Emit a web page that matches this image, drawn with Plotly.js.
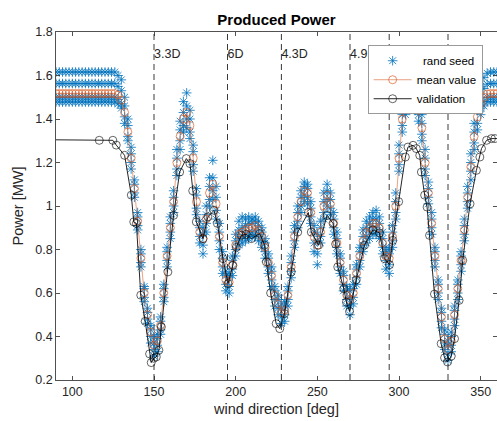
<!DOCTYPE html>
<html>
<head>
<meta charset="utf-8">
<script src="https://cdn.plot.ly/plotly-3.0.1.min.js"></script>
<style>html,body{margin:0;padding:0;overflow:hidden;background:#fff}</style>
</head>
<body>
<div id="chart" style="width:497px;height:421px"></div>
<script>
// wind direction grid [deg]
const dirs = [90,92,94,96,98,100,102,104,106,108,110,112,114,116,118,120,122,124,126,
  128,130,132,134,136,138,140,142,144,146,
  148,150,152,154,156,158,160,162,164,166,
  168,170,172,174,176,178,180,182,184,186,
  188,190,192,194,196,198,200,202,204,206,
  208,210,212,214,216,218,220,222,224,226,
  228,230,232,234,236,238,240,242,244,246,
  248,250,252,254,256,258,260,262,264,266,
  268,270,272,274,276,278,280,282,284,286,
  288,290,292,294,296,298,300,302,304,306,
  308,310,312,314,316,318,320,322,324,326,
  328,330,332,334,336,338,340,342,344,346,
  348,350,352,354,356,358,360];

// mean value [MW]
const meanPower = [1.517,1.517,1.517,1.517,1.517,1.517,1.517,1.517,1.517,1.517,1.517,1.517,1.517,1.517,1.517,1.517,1.517,1.517,1.517,
  1.51,1.487,1.43,1.34,1.22,1.08,0.93,0.76,0.60,0.50,
  0.42,0.36,0.38,0.45,0.60,0.77,0.90,1.02,1.20,1.32,
  1.40,1.43,1.37,1.22,1.02,0.88,0.85,0.94,1.06,1.10,
  1.01,0.86,0.74,0.66,0.65,0.73,0.82,0.87,0.88,0.89,
  0.90,0.90,0.91,0.89,0.86,0.81,0.74,0.68,0.59,0.55,
  0.51,0.52,0.59,0.72,0.86,0.95,1.02,1.07,1.06,0.97,
  0.86,0.82,0.88,1.00,1.05,1.01,0.92,0.83,0.74,0.66,
  0.59,0.57,0.60,0.69,0.77,0.84,0.88,0.90,0.92,0.92,
  0.90,0.83,0.77,0.76,0.86,1.00,1.22,1.40,1.47,1.50,
  1.50,1.49,1.44,1.36,1.20,1.06,0.92,0.77,0.62,0.49,
  0.39,0.34,0.38,0.50,0.62,0.75,0.89,1.04,1.18,1.32,
  1.41,1.47,1.50,1.515,1.517,1.517,1.517];

// individual random seeds [MW]
const seedA = [1.616,1.616,1.616,1.616,1.616,1.616,1.616,1.616,1.616,1.616,1.616,1.616,1.616,1.616,1.616,1.616,1.616,1.616,1.616,
  1.60,1.58,1.50,1.40,1.27,1.12,0.97,0.80,0.63,0.53,
  0.45,0.40,0.41,0.49,0.64,0.81,0.95,1.07,1.26,1.39,
  1.48,1.52,1.44,1.28,1.08,0.93,0.90,1.00,1.13,1.21,
  1.09,0.92,0.79,0.70,0.69,0.77,0.87,0.93,0.95,0.94,
  0.95,0.94,0.95,0.93,0.90,0.85,0.78,0.72,0.63,0.59,
  0.55,0.56,0.63,0.77,0.91,1.00,1.07,1.11,1.10,1.02,
  0.91,0.87,0.93,1.06,1.10,1.06,0.97,0.88,0.78,0.70,
  0.63,0.61,0.64,0.73,0.81,0.89,0.93,0.95,0.97,0.98,
  0.95,0.88,0.81,0.80,0.91,1.06,1.28,1.46,1.53,1.55,
  1.55,1.54,1.50,1.42,1.26,1.11,0.97,0.81,0.66,0.53,
  0.43,0.38,0.42,0.54,0.66,0.79,0.94,1.09,1.24,1.38,
  1.48,1.55,1.59,1.61,1.616,1.616,1.616];
const seedB = [1.563,1.563,1.563,1.563,1.563,1.563,1.563,1.563,1.563,1.563,1.563,1.563,1.563,1.563,1.563,1.563,1.563,1.563,1.563,
  1.55,1.53,1.46,1.37,1.24,1.10,0.95,0.78,0.62,0.51,
  0.43,0.37,0.39,0.47,0.62,0.79,0.92,1.04,1.22,1.35,
  1.43,1.46,1.40,1.25,1.05,0.90,0.87,0.96,1.09,1.13,
  1.04,0.88,0.76,0.68,0.67,0.75,0.84,0.89,0.90,0.91,
  0.92,0.92,0.93,0.91,0.88,0.83,0.76,0.70,0.61,0.57,
  0.53,0.54,0.61,0.74,0.88,0.97,1.04,1.09,1.08,0.99,
  0.88,0.84,0.90,1.02,1.07,1.03,0.94,0.85,0.76,0.68,
  0.61,0.58,0.62,0.71,0.79,0.86,0.90,0.92,0.94,0.94,
  0.92,0.85,0.79,0.78,0.88,1.02,1.24,1.42,1.49,1.52,
  1.52,1.51,1.46,1.38,1.22,1.08,0.94,0.79,0.64,0.51,
  0.41,0.36,0.40,0.52,0.64,0.77,0.91,1.06,1.20,1.34,
  1.44,1.50,1.54,1.56,1.563,1.563,1.563];
const seedC = [1.50,1.50,1.50,1.50,1.50,1.50,1.50,1.50,1.50,1.50,1.50,1.50,1.50,1.50,1.50,1.50,1.50,1.50,1.50,
  1.49,1.47,1.41,1.32,1.20,1.06,0.91,0.74,0.58,0.48,
  0.40,0.34,0.36,0.43,0.58,0.75,0.88,1.00,1.17,1.30,
  1.37,1.40,1.34,1.19,0.99,0.86,0.82,0.92,1.03,1.07,
  0.98,0.84,0.72,0.64,0.63,0.71,0.80,0.85,0.86,0.87,
  0.88,0.88,0.89,0.87,0.84,0.79,0.72,0.66,0.57,0.53,
  0.49,0.50,0.57,0.70,0.84,0.93,1.00,1.05,1.04,0.95,
  0.83,0.78,0.86,0.97,1.03,0.99,0.90,0.81,0.72,0.64,
  0.57,0.54,0.58,0.67,0.75,0.82,0.86,0.88,0.90,0.90,
  0.88,0.81,0.75,0.73,0.84,0.97,1.19,1.37,1.45,1.48,
  1.48,1.47,1.42,1.33,1.17,1.04,0.90,0.75,0.60,0.47,
  0.37,0.32,0.36,0.48,0.60,0.73,0.87,1.02,1.16,1.29,
  1.38,1.45,1.48,1.50,1.50,1.50,1.50];
const seedD = [1.478,1.478,1.478,1.478,1.478,1.478,1.478,1.478,1.478,1.478,1.478,1.478,1.478,1.478,1.478,1.478,1.478,1.478,1.478,
  1.47,1.45,1.38,1.30,1.17,1.04,0.89,0.72,0.56,0.46,
  0.37,0.31,0.33,0.41,0.56,0.72,0.85,0.97,1.14,1.26,
  1.34,1.36,1.31,1.16,0.96,0.83,0.78,0.88,1.00,1.03,
  0.94,0.80,0.69,0.61,0.60,0.68,0.77,0.82,0.83,0.84,
  0.85,0.86,0.86,0.84,0.81,0.76,0.69,0.63,0.54,0.50,
  0.46,0.47,0.54,0.67,0.81,0.90,0.97,1.02,1.01,0.92,
  0.79,0.73,0.83,0.94,1.00,0.96,0.87,0.78,0.69,0.61,
  0.54,0.50,0.55,0.64,0.72,0.79,0.83,0.85,0.87,0.87,
  0.85,0.78,0.71,0.69,0.81,0.94,1.16,1.34,1.42,1.45,
  1.45,1.44,1.39,1.30,1.14,1.01,0.87,0.72,0.57,0.44,
  0.34,0.29,0.33,0.45,0.57,0.70,0.84,0.99,1.12,1.26,
  1.35,1.42,1.46,1.48,1.478,1.478,1.478];

// validation
const valDirs = [80,116.5,124.8,126.9,132,136.1,137.6,139.2,141.9,144.6,147.3,148.3,149.8,151.4,153,154.5,158.5,162,
  165.7,169.8,172,173.7,175.9,180,183,186.7,188.8,192.2,195.3,198.3,200.4,203.5,206.5,209.6,214.7,217.7,218.8,
  221.4,224.8,227,229.9,234,238,244.5,246.3,250.8,256,259.6,261.2,262.5,266.2,267.8,269.7,273.8,278.9,284,288.1,
  291.1,294.2,296.2,299.8,303.9,305.5,308.6,310.6,312.7,313.7,315.7,317.2,318.7,321.7,325.8,327.9,329.7,332,334,
  336.8,339,343.5,347.4,349.5,350.5,353.6,356.6,358.7,365];
const valPower = [1.305,1.302,1.302,1.28,1.233,1.05,0.927,0.92,0.59,0.47,0.32,0.28,0.30,0.306,0.337,0.444,0.697,0.957,
  1.156,1.218,1.195,1.07,0.927,0.85,0.95,0.98,0.92,0.758,0.643,0.727,0.81,0.865,0.87,0.85,0.873,0.82,0.743,
  0.60,0.459,0.436,0.505,0.697,0.88,0.97,0.88,0.82,0.957,0.92,0.825,0.72,0.62,0.558,0.515,0.66,0.82,0.89,0.876,
  0.758,0.73,0.842,1.02,1.225,1.271,1.279,1.264,1.233,1.156,1.05,0.995,0.865,0.595,0.367,0.302,0.283,0.31,0.39,
  0.566,0.75,1.01,1.164,1.225,1.264,1.302,1.31,1.31,1.31];

// wake directions and labels
const wakeDirs = [150,195,228,270,294,330];
const wakeLabels = ['3.3D','6D','4.3D','4.9D','',''];

const seedX = [].concat(dirs,dirs,dirs,dirs);
const seedY = [].concat(seedA,seedB,seedC,seedD);

const font = 'Liberation Sans, Arial, Helvetica, sans-serif';
const axCol = '#262626';

const traces = [
  {x: wakeDirs, y: wakeDirs.map(()=>1.693), text: wakeLabels, mode:'text', textposition:'middle right',
   textfont:{family:font,size:12.5,color:axCol}, showlegend:false, hoverinfo:'skip', cliponaxis:true},
  {x: seedX, y: seedY, name:'\u00a0\u00a0rand seed', mode:'markers', type:'scatter',
   marker:{symbol:'asterisk-open', size:8, color:'rgba(0,114,189,0.8)', line:{width:1, color:'rgba(0,114,189,0.8)'}}},
  {x: dirs, y: meanPower, name:'mean value', mode:'lines+markers', type:'scatter',
   line:{color:'rgba(217,83,25,0.55)', width:1},
   marker:{symbol:'circle-open', size:8, color:'rgba(217,83,25,0.65)', line:{width:1}}},
  {x: valDirs, y: valPower, name:'validation', mode:'lines+markers', type:'scatter',
   line:{color:'rgba(0,0,0,0.85)', width:1},
   marker:{symbol:'circle-open', size:8, color:'rgba(0,0,0,0.6)', line:{width:1}}}
];

const shapes = wakeDirs.map(d => ({type:'line', xref:'x', yref:'paper', x0:d, x1:d, y0:0, y1:1,
  layer:'below', line:{color:'#3a3a3a', width:1, dash:'6px,4px'}}));

const axisBase = {showline:true, linecolor:axCol, linewidth:0.8, mirror:'ticks', ticks:'inside', ticklen:4,
  tickcolor:axCol, tickwidth:0.8, showgrid:false, zeroline:false,
  tickfont:{family:font, size:12.5, color:axCol}};

const layout = {
  width:497, height:421, autosize:false,
  margin:{l:56, r:0, t:32, b:41, pad:0},
  paper_bgcolor:'#fff', plot_bgcolor:'#fff',
  font:{family:font, color:axCol},
  title:{text:'<b>Produced Power</b>', font:{family:font, size:15, color:'#000'},
         xref:'paper', x:0.5, xanchor:'center', yref:'container', y:0.953, yanchor:'middle'},
  xaxis: Object.assign({}, axisBase, {range:[90,360], tick0:0, dtick:50,
    title:{text:'wind direction [deg]', font:{family:font, size:14.5, color:axCol}, standoff:5}}),
  yaxis: Object.assign({}, axisBase, {range:[0.2,1.8], tick0:0, dtick:0.2,
    title:{text:'Power [MW]', font:{family:font, size:14.5, color:axCol}, standoff:8}}),
  shapes: shapes,
  showlegend:true,
  legend:{x:0.7067, y:0.962, xanchor:'left', yanchor:'top', bgcolor:'#fff', bordercolor:'#9a9a9a', borderwidth:1,
    font:{family:font, size:11.5, color:'#000'}, itemwidth:38, tracegroupgap:0}
};

Plotly.newPlot('chart', traces, layout, {staticPlot:true, displayModeBar:false});
</script>
</body>
</html>
